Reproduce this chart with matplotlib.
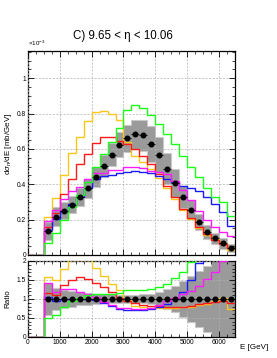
import numpy as np
import matplotlib.pyplot as plt
from matplotlib.ticker import MultipleLocator

plt.rcParams['font.family'] = ['Liberation Sans', 'DejaVu Sans']
plt.rcParams['mathtext.fontset'] = 'custom'
plt.rcParams['mathtext.rm'] = 'Liberation Sans'
plt.rcParams['mathtext.it'] = 'Liberation Sans:italic'

# bin edges [GeV], 250 GeV wide; the measurement starts at 500 GeV
edges = np.arange(0, 6501, 250)
n_empty = 2

# values in units of 1e-3 mb/GeV, bins 500-6500 GeV
data = [0.136, 0.217, 0.251, 0.285, 0.328, 0.377, 0.442, 0.504, 0.568, 0.623, 0.660, 0.683,
        0.677, 0.628, 0.566, 0.489, 0.408, 0.328, 0.255, 0.186, 0.131, 0.093, 0.065, 0.041]
syst_rel = [0.38, 0.25, 0.20, 0.17, 0.15, 0.14, 0.13, 0.12, 0.115, 0.115, 0.115, 0.12,
            0.13, 0.16, 0.18, 0.18, 0.19, 0.19, 0.21, 0.25, 0.30, 0.36, 0.45, 0.55]
ratio_band_rel = [0.43, 0.28, 0.24, 0.20, 0.17, 0.15, 0.13, 0.12, 0.12, 0.11, 0.11, 0.11,
                  0.12, 0.14, 0.18, 0.26, 0.35, 0.48, 0.60, 0.74, 0.87, 1.0, 1.0, 1.0]

mc_gold = [0.214, 0.324, 0.450, 0.574, 0.667, 0.760, 0.807, 0.812, 0.797, 0.763, 0.640, 0.560,
           0.528, 0.484, 0.436, 0.377, 0.314, 0.256, 0.204, 0.154, 0.115, 0.088, 0.067, 0.030]
mc_red = [0.156, 0.239, 0.344, 0.428, 0.515, 0.573, 0.632, 0.665, 0.670, 0.642, 0.627, 0.601,
          0.562, 0.515, 0.458, 0.391, 0.326, 0.262, 0.209, 0.160, 0.118, 0.086, 0.062, 0.037]
mc_blue = [0.143, 0.206, 0.251, 0.287, 0.330, 0.377, 0.428, 0.448, 0.455, 0.462, 0.468, 0.477,
           0.471, 0.462, 0.449, 0.430, 0.410, 0.390, 0.380, 0.360, 0.330, 0.290, 0.245, 0.163]
mc_magenta = [0.192, 0.256, 0.319, 0.362, 0.387, 0.430, 0.464, 0.464, 0.483, 0.480, 0.495, 0.499,
              0.494, 0.477, 0.470, 0.460, 0.420, 0.370, 0.310, 0.250, 0.200, 0.160, 0.130, 0.107]
mc_green = [0.068, 0.126, 0.200, 0.270, 0.340, 0.415, 0.495, 0.570, 0.640, 0.720, 0.818, 0.849,
            0.830, 0.790, 0.743, 0.687, 0.630, 0.562, 0.500, 0.440, 0.378, 0.330, 0.300, 0.222]

models = [(mc_gold, '#ffc61a'), (mc_red, '#ff1a1a'), (mc_blue, '#1a1aff'),
          (mc_magenta, '#ff1aff'), (mc_green, '#1aff1a')]

d = np.array(data)
e_data = edges[n_empty:]
centers = 0.5 * (e_data[1:] + e_data[:-1])
half = 0.5 * np.diff(e_data)

fig = plt.figure(figsize=(2.77, 3.58), dpi=100)
ax = fig.add_axes([0.101, 0.288, 0.747, 0.570])
axr = fig.add_axes([0.101, 0.059, 0.747, 0.212])

grid_kw = dict(color='#b0b0b0', lw=0.5, ls=(0, (3, 2)))

# main panel
ax.stairs(d * (1 + np.array(syst_rel)), e_data, baseline=d * (1 - np.array(syst_rel)),
          fill=True, color='#9a9a9a', ec='#c8c8c8', lw=0.8, zorder=2)
for vals, col in models:
    full = np.concatenate([np.zeros(n_empty), vals])
    ax.stairs(full, edges, baseline=None, color=col, lw=1.0, zorder=3)
ax.errorbar(centers, d, xerr=half, fmt='o', color='black', ms=3.3, elinewidth=0.6,
            capsize=0, zorder=5)

ax.set_xlim(0, 6500)
ax.set_ylim(0, 1.155)
ax.set_xticklabels([])
ax.yaxis.set_major_locator(MultipleLocator(0.2))
ax.yaxis.set_minor_locator(MultipleLocator(0.05))
ax.set_yticks([0, 0.2, 0.4, 0.6, 0.8, 1.0])
ax.set_yticklabels(['0', '0.2', '0.4', '0.6', '0.8', '1'])
ax.grid(True, which='major', **grid_kw)

# ratio panel
rb = np.array(ratio_band_rel)
axr.stairs(1 + rb, e_data, baseline=np.clip(1 - rb, 0, None), fill=True,
           color='#9a9a9a', ec='#c8c8c8', lw=0.8, zorder=2)
for vals, col in models:
    r = np.concatenate([np.zeros(n_empty), np.array(vals) / d])
    axr.stairs(r, edges, baseline=None, color=col, lw=1.0, zorder=3)
axr.errorbar(centers, np.ones_like(d), xerr=half, fmt='o', color='black', ms=3.3,
             elinewidth=0.6, capsize=0, zorder=5)
axr.set_xlim(0, 6500)
axr.set_ylim(0, 2)
axr.set_yticks([0, 0.5, 1, 1.5, 2])
axr.set_yticklabels(['0', '0.5', '1', '1.5', '2'])
axr.yaxis.set_minor_locator(MultipleLocator(0.1))
axr.grid(True, which='major', **grid_kw)

for a in (ax, axr):
    a.xaxis.set_major_locator(MultipleLocator(1000))
    a.xaxis.set_minor_locator(MultipleLocator(250))
    a.tick_params(which='both', direction='in', top=True, right=True, labelsize=4.8, pad=1.5)
    a.tick_params(which='major', length=4, width=0.6)
    a.tick_params(which='minor', length=2, width=0.5)
    for s in a.spines.values():
        s.set_linewidth(0.9)
    a.set_axisbelow(False)

fig.text(0.443, 0.900, 'C) 9.65 < η < 10.06', ha='center', va='center', fontsize=8.3)
fig.text(0.101, 0.866, r'$\times$10$^{-3}$', ha='left', va='bottom', fontsize=4.5)
fig.text(0.030, 0.599, r'd$\sigma_{n}$/dE [mb/GeV]', rotation=90, ha='center', va='center',
         fontsize=5.8)
fig.text(0.027, 0.166, 'Ratio', rotation=90, ha='center', va='center', fontsize=5.8)
fig.text(0.968, 0.028, 'E [GeV]', ha='right', va='center', fontsize=5.8)

fig.savefig('out.png', dpi=100)
